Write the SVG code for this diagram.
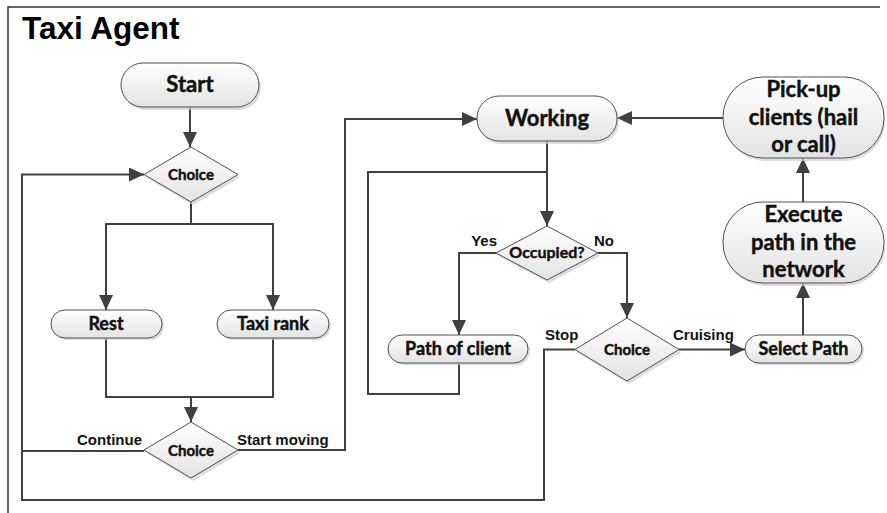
<svg xmlns="http://www.w3.org/2000/svg" width="887" height="513" viewBox="0 0 887 513">
<defs>
<linearGradient id="g" x1="0" y1="0" x2="0" y2="1">
<stop offset="0" stop-color="#ffffff"/>
<stop offset="1" stop-color="#e3e3e3"/>
</linearGradient>
<marker id="ah" viewBox="0 0 15 14" refX="15" refY="7" markerWidth="15" markerHeight="14" markerUnits="userSpaceOnUse" orient="auto">
<path d="M0,0 L15,7 L0,14 z" fill="#404040"/>
</marker>
<style>
.n{fill:url(#g);stroke:#505050;stroke-width:1}
.sh{fill:#cfcfcf;stroke:none;opacity:0.7}
.t{font-family:Lato,"Open Sans",sans-serif;font-weight:bold;fill:#111;stroke:#111;stroke-width:0.45;text-anchor:middle}
.big{font-size:22px}
.mid{font-size:18px}
.sm{font-size:15px}
.lb{font-family:"Liberation Sans",Arial,sans-serif;font-weight:bold;font-size:15px;fill:#111}
.c{fill:none;stroke:#404040;stroke-width:2}
.a{marker-end:url(#ah)}
</style>
</defs>
<rect width="887" height="513" fill="#ffffff"/>
<path d="M8,513 V7 H880" fill="none" stroke="#303030" stroke-width="1.5"/>
<text x="22" y="39" font-family="Liberation Sans,Arial,sans-serif" font-weight="bold" font-size="31.5" fill="#000">Taxi Agent</text>

<g id="connectors">
<path class="c a" d="M190,107 V147"/>
<path class="c a" d="M191,202 V224 H106 V310"/>
<path class="c a" d="M191,224 H273 V310"/>
<path class="c" d="M106,338 V397 H273 V338"/>
<path class="c a" d="M191,397 V422"/>
<path class="c a" d="M144,451 H22 V174.5 H144"/>
<path class="c a" d="M238,450 H345 V119 H477"/>
<path class="c a" d="M547,141 V226"/>
<path class="c a" d="M496,253 H459 V335"/>
<path class="c" d="M459,363 V394 H368 V172 H547"/>
<path class="c a" d="M598,253 H627 V318"/>
<path class="c" d="M575,349.5 H544 V500 H22 V451"/>
<path class="c a" d="M679,349.5 H745"/>
<path class="c a" d="M803,335 V283"/>
<path class="c a" d="M803,202 V158"/>
<path class="c a" d="M723,118 H617"/>
<text class="lb" x="142" y="445" text-anchor="end">Continue</text>
<text class="lb" x="237" y="445">Start moving</text>
<text class="lb" x="497" y="246" text-anchor="end">Yes</text>
<text class="lb" x="594" y="246">No</text>
<text class="lb" x="545" y="340">Stop</text>
<text class="lb" x="673" y="340">Cruising</text>
</g>

<g id="start">
<rect class="sh" x="123" y="66" width="138" height="44" rx="22"/>
<rect class="n" x="121" y="63" width="138" height="44" rx="22"/>
<text class="t big" x="190" y="92">Start</text>
</g>
<g id="choice1">
<polygon class="sh" points="193,150 240,177.5 193,205 146,177.5"/>
<polygon class="n" points="191,147 238,174.5 191,202 144,174.5"/>
<text class="t sm" x="191" y="180">Choice</text>
</g>
<g id="rest">
<rect class="sh" x="53" y="312" width="111" height="28" rx="14"/>
<rect class="n" x="51" y="310" width="111" height="28" rx="14"/>
<text class="t mid" x="106" y="330">Rest</text>
</g>
<g id="taxirank">
<rect class="sh" x="219" y="312" width="112" height="28" rx="14"/>
<rect class="n" x="217" y="310" width="112" height="28" rx="14"/>
<text class="t mid" x="273" y="330">Taxi rank</text>
</g>
<g id="choice2">
<polygon class="sh" points="193,425 240,453 193,481 146,453"/>
<polygon class="n" points="191,422 238,450 191,478 144,450"/>
<text class="t sm" x="191" y="456">Choice</text>
</g>
<g id="working">
<rect class="sh" x="479" y="99" width="140" height="45" rx="22"/>
<rect class="n" x="477" y="96" width="140" height="45" rx="22"/>
<text class="t big" x="547" y="126">Working</text>
</g>
<g id="occupied">
<polygon class="sh" points="549,229 600,256 549,283 498,256"/>
<polygon class="n" points="547,226 598,253 547,280 496,253"/>
<text class="t" x="547" y="258" font-size="16">Occupied?</text>
</g>
<g id="pathofclient">
<rect class="sh" x="390" y="337" width="140" height="28" rx="14"/>
<rect class="n" x="388" y="335" width="140" height="28" rx="14"/>
<text class="t mid" x="458" y="355">Path of client</text>
</g>
<g id="choice3">
<polygon class="sh" points="629,321 681,352.5 629,384 577,352.5"/>
<polygon class="n" points="627,318 679,349.5 627,381 575,349.5"/>
<text class="t sm" x="627" y="355">Choice</text>
</g>
<g id="selectpath">
<rect class="sh" x="747" y="337" width="117" height="28" rx="14"/>
<rect class="n" x="745" y="335" width="117" height="28" rx="14"/>
<text class="t mid" x="803.5" y="355">Select Path</text>
</g>
<g id="execute">
<rect class="sh" x="725" y="205" width="160" height="81" rx="40"/>
<rect class="n" x="723" y="202" width="161" height="81" rx="40"/>
<text class="t big" x="803.5" y="222">Execute</text>
<text class="t big" x="803.5" y="250">path in the</text>
<text class="t big" x="803.5" y="277">network</text>
</g>
<g id="pickup">
<rect class="sh" x="725" y="80" width="160" height="81" rx="40"/>
<rect class="n" x="723" y="77" width="161" height="81" rx="40"/>
<text class="t big" x="803.5" y="97">Pick-up</text>
<text class="t big" x="803.5" y="125">clients (hail</text>
<text class="t big" x="803.5" y="152">or call)</text>
</g>
</svg>
